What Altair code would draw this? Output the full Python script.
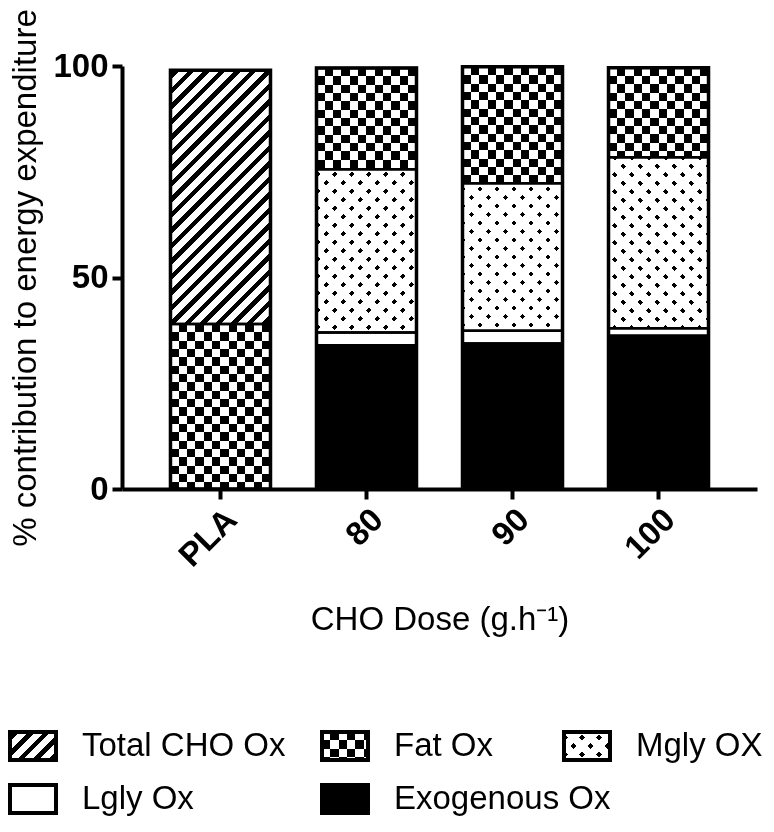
import math
import altair as alt
import pandas as pd

# ---------------- data ----------------
doses = ["PLA", "80", "90", "100"]
exogenous_ox = [0.0, 34.0, 34.4, 36.2]
lgly_ox = [0.0, 3.0, 3.0, 1.8]
mgly_ox = [0.0, 38.6, 34.9, 40.4]
fat_ox = [39.0, 23.9, 27.5, 21.2]
total_cho_ox = [60.0, 0.0, 0.0, 0.0]

segment_names = ["Exogenous Ox", "Lgly Ox", "Mgly OX", "Fat Ox", "Total CHO Ox"]
legend_labels = ["Total CHO Ox", "Fat Ox", "Mgly OX", "Lgly Ox", "Exogenous Ox"]
legend_cols = [0, 1, 2, 0, 1]
legend_rows = [0, 0, 0, 1, 1]
y_tick_values = [0, 50, 100]
x_title = "CHO Dose (g.h⁻¹)"
y_title = "% contribution to energy expenditure"

series = [exogenous_ox, lgly_ox, mgly_ox, fat_ox, total_cho_ox]
rows = []
for order, (name, vals) in enumerate(zip(segment_names, series)):
    for d, v in zip(doses, vals):
        if v > 0:
            rows.append({"dose": d, "segment": name, "value": v, "order": order})
df = pd.DataFrame(rows)

# ---------------- layout / style ----------------
FONT = "Liberation Sans"
FS = 33
W_PLOT, H_PLOT = 635, 423
PAD_IN, PAD_OUT = 0.315, 0.332
STEP = W_PLOT / (len(doses) - PAD_IN + 2 * PAD_OUT)
BW = STEP * (1 - PAD_IN)
PX = H_PLOT / 100.0
CELL = BW / 12.0          # checker cell
STRIPE_P, STRIPE_ON = 15.5, 6.5
DOT_P, DOT_ON = 17.0, 5.2

pattern_of = {"Total CHO Ox": "stripes", "Fat Ox": "checker", "Mgly OX": "dots",
              "Lgly Ox": "white", "Exogenous Ox": "black"}


def band_stops(L, period, on, phase=0.0, c_on="black", c_off="white"):
    edges = []
    k = math.floor(-phase / period) - 1
    while True:
        a = k * period + phase
        b = a + on
        if a >= L:
            break
        if b > 0:
            edges.append((max(a, 0) / L, min(b, L) / L))
        k += 1
    stops = []
    prev = 0.0

    def add(t, c):
        stops.append({"offset": round(min(max(t, 0.0), 1.0), 5), "color": c})

    for ta, tb in edges:
        if not stops or ta > prev:
            add(prev, c_off)
            add(ta, c_off)
        add(ta, c_on)
        add(tb, c_on)
        prev = tb
    if prev < 1:
        add(prev, c_off)
        add(1.0, c_off)
    return stops


def grad_h(W, H, period, on, **kw):
    return {"gradient": "linear", "x1": 0, "y1": 0, "x2": 1, "y2": 0,
            "stops": band_stops(W, period, on, **kw)}


def grad_v(W, H, period, on, **kw):
    return {"gradient": "linear", "x1": 0, "y1": 0, "x2": 0, "y2": 1,
            "stops": band_stops(H, period, on, **kw)}


def grad_up(W, H, period, on, **kw):
    lam = (W + H) / (W * W + H * H)
    return {"gradient": "linear", "x1": 0, "y1": 0, "x2": lam * W, "y2": lam * H,
            "stops": band_stops(W + H, period, on, **kw)}


def grad_down(W, H, period, on, **kw):
    lam = (W + H) / (W * W + H * H)
    return {"gradient": "linear", "x1": 0, "y1": 1, "x2": lam * W, "y2": 1 - lam * H,
            "stops": band_stops(W + H, period, on, **kw)}


def pattern_fills(kind, W, H):
    if kind == "stripes":
        return [(grad_up(W, H, STRIPE_P, STRIPE_ON, phase=3.0), None)]
    if kind == "checker":
        return [(grad_h(W, H, 2 * CELL, CELL), None),
                (grad_v(W, H, 2 * CELL, CELL, c_on="white", c_off="black"), "difference")]
    if kind == "dots":
        return [(grad_up(W, H, DOT_P, DOT_ON, phase=4.0), None),
                (grad_down(W, H, DOT_P, DOT_ON, phase=4.0), "lighten")]
    if kind == "white":
        return [("white", None)]
    return [("black", None)]


axis_common = dict(
    domainColor="black", domainWidth=4, tickColor="black", tickWidth=4, tickSize=10,
    labelColor="black", labelFont=FONT, labelFontSize=FS, labelFontWeight="bold",
    titleColor="black", titleFont=FONT, titleFontSize=FS, titleFontWeight="normal",
    grid=False, labelPadding=4,
)
x_axis = alt.Axis(title=x_title, labelAngle=-45, titlePadding=30, **axis_common)
y_axis = alt.Axis(title=y_title, values=y_tick_values, titlePadding=10, **axis_common)

x_enc = alt.X("dose:N", sort=doses,
              scale=alt.Scale(paddingInner=PAD_IN, paddingOuter=PAD_OUT), axis=x_axis)
y_scale = alt.Scale(domain=[0, 100], nice=False, zero=True)


def stacked():
    return alt.Chart(df).transform_stack(
        stack="value", groupby=["dose"], as_=["y0", "y1"],
        sort=[alt.SortField("order", order="ascending")])


layers = []
for seg in ["Total CHO Ox", "Fat Ox", "Mgly OX"]:
    for d, v in zip(doses, series[segment_names.index(seg)]):
        if v <= 0:
            continue
        for fill, blend in pattern_fills(pattern_of[seg], BW, v * PX):
            mk = dict(fill=fill)
            if blend:
                mk["blend"] = blend
            layers.append(
                stacked().transform_filter(
                    f"datum.segment === '{seg}' && datum.dose === '{d}'")
                .mark_bar(**mk)
                .encode(x=x_enc, y=alt.Y("y0:Q", scale=y_scale, axis=y_axis), y2="y1:Q"))
for seg in ["Lgly Ox", "Exogenous Ox"]:
    layers.append(
        stacked().transform_filter(f"datum.segment === '{seg}'")
        .mark_bar(fill=pattern_of[seg])
        .encode(x=x_enc, y=alt.Y("y0:Q", scale=y_scale, axis=y_axis), y2="y1:Q"))

layers.append(
    stacked().mark_bar(filled=False, stroke="black", strokeWidth=2.5)
    .encode(x=x_enc, y=alt.Y("y0:Q", scale=y_scale, axis=y_axis), y2="y1:Q"))
layers.append(
    alt.Chart(df).transform_aggregate(total="sum(value)", groupby=["dose"])
    .mark_bar(filled=False, stroke="black", strokeWidth=3.5)
    .encode(x=x_enc, y=alt.Y("total:Q", scale=y_scale, axis=y_axis)))

main = alt.layer(*layers).properties(width=W_PLOT, height=H_PLOT)

# ---------------- legend ----------------
# the legend view starts where the main plot area starts (vconcat aligns views)
LEFT_EXTENT = 112
LEG_W, LEG_H = 600, 72
leg_col_x = [0, 312, 554]          # symbol left, measured from the chart's left edge
leg_row_y = [16, 69]
SYM_W, SYM_H = 46, 28
TEXT_GAP = 72

ldf = pd.DataFrame({"label": legend_labels, "col": legend_cols, "row": legend_rows})
ldf["xs"] = [leg_col_x[c] - LEFT_EXTENT for c in legend_cols]
ldf["xe"] = ldf["xs"] + SYM_W
ldf["yc"] = [leg_row_y[r] for r in legend_rows]
ldf["ys"] = ldf["yc"] - SYM_H / 2
ldf["ye"] = ldf["yc"] + SYM_H / 2
ldf["xt"] = ldf["xs"] + TEXT_GAP

lx = alt.Scale(domain=[0, LEG_W], nice=False, zero=False)
ly = alt.Scale(domain=[0, LEG_H], nice=False, zero=False, reverse=True)

leg_layers = []
for lab in legend_labels:
    for fill, blend in pattern_fills(pattern_of[lab], SYM_W, SYM_H):
        mk = dict(fill=fill)
        if blend:
            mk["blend"] = blend
        leg_layers.append(
            alt.Chart(ldf).transform_filter(f"datum.label === '{lab}'")
            .mark_rect(**mk)
            .encode(x=alt.X("xs:Q", scale=lx, axis=None), x2="xe:Q",
                    y=alt.Y("ys:Q", scale=ly, axis=None), y2="ye:Q"))
leg_layers.append(
    alt.Chart(ldf).mark_rect(filled=False, stroke="black", strokeWidth=4)
    .encode(x=alt.X("xs:Q", scale=lx, axis=None), x2="xe:Q",
            y=alt.Y("ys:Q", scale=ly, axis=None), y2="ye:Q"))
leg_layers.append(
    alt.Chart(ldf).mark_text(align="left", baseline="middle", font=FONT,
                             fontSize=FS, color="black")
    .encode(x=alt.X("xt:Q", scale=lx, axis=None),
            y=alt.Y("yc:Q", scale=ly, axis=None), text="label:N"))

legend = alt.layer(*leg_layers).properties(width=LEG_W, height=LEG_H)

chart = (alt.vconcat(main, legend, spacing=93)
         .properties(padding={"left": 0, "top": 0, "right": 0, "bottom": 0})
         .configure(font=FONT)
         .configure_view(stroke=None))

chart.save("out.html", embed_options={"renderer": "svg", "actions": False})
